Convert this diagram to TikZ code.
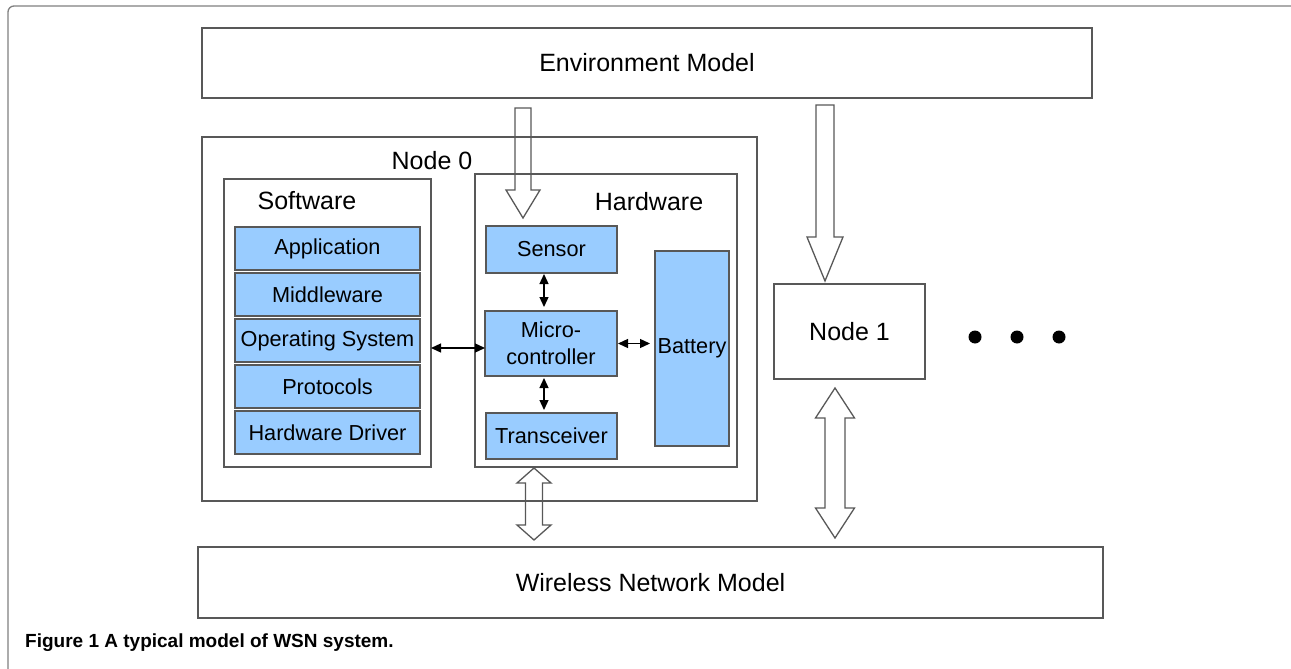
\documentclass[tikz,border=0pt]{standalone}
\usepackage{fontspec}
\setmainfont{Liberation Sans}
\usetikzlibrary{calc,arrows.meta}
\definecolor{layerblue}{RGB}{153,204,255}
\definecolor{linegray}{RGB}{88,88,88}
% hollow block arrow pointing down: top, tip, shaft half width, head half width, head length
\newcommand{\fatdown}[5]{%
	\draw[hollow] ($(#1)+(-#3,0)$) -- ($(#2)+(-#3,#5)$) -- ($(#2)+(-#4,#5)$) -- (#2)
		-- ($(#2)+(#4,#5)$) -- ($(#2)+(#3,#5)$) -- ($(#1)+(#3,0)$) -- cycle;}
% hollow block arrow with two heads: upper tip, lower tip, shaft half width, head half width, head length
\newcommand{\fatboth}[5]{%
	\draw[hollow] (#1) -- ($(#1)+(#4,-#5)$) -- ($(#1)+(#3,-#5)$) -- ($(#2)+(#3,#5)$) -- ($(#2)+(#4,#5)$) -- (#2)
		-- ($(#2)+(-#4,#5)$) -- ($(#2)+(-#3,#5)$) -- ($(#1)+(-#3,-#5)$) -- ($(#1)+(-#4,-#5)$) -- cycle;}
\begin{document}
\begin{tikzpicture}[x=1pt,y=1pt,
		box/.style={draw=linegray,line width=1.3pt,inner sep=0pt,outer sep=0pt},
		layer/.style={box,fill=layerblue,font=\fontsize{21.7}{27}\selectfont,align=center},
		title/.style={font=\fontsize{25}{30}\selectfont},
		link/.style={{Triangle[length=10pt,width=9pt]}-{Triangle[length=10pt,width=9pt]},line width=1.3pt},
		hollow/.style={draw=linegray,line width=1.3pt,line join=miter}]
		\useasboundingbox (0,0) rectangle (1291,-669);
		% page frame
		\draw[draw=gray,line width=1.3pt] (1291,-6) -- (14,-6) arc[start angle=90,end angle=180,radius=6] -- (8,-669);
		% models
		\node[box,title,minimum width=890,minimum height=70] (env) at (647,-63) {Environment Model};
		\node[box,title,minimum width=905,minimum height=71] (wnet) at (650.5,-582.5) {Wireless Network Model};
		% node 0
		\node[box,minimum width=555,minimum height=364] (node0) at (479.5,-319) {};
		\node[title] (n0label) at (432,-161) {Node 0};
		\node[box,minimum width=207,minimum height=288] (sw) at (327.5,-323) {};
		\node[title] (swlabel) at (307,-201) {Software};
		\node[box,minimum width=262,minimum height=293] (hw) at (606,-320.5) {};
		\node[title] (hwlabel) at (649,-202) {Hardware};
		\foreach \name/\txt [count=\i from 0] in {app/Application,mid/Middleware,os/Operating System,prot/Protocols,drv/Hardware Driver}
			\node[layer,minimum width=185,minimum height=43] (\name) at (327.5,-248.5-46*\i) {\txt};
		\node[layer,minimum width=131,minimum height=47] (sensor) at (551.5,-249.5) {Sensor};
		\node[layer,minimum width=132,minimum height=65] (micro) at (551,-343.5) {Micro-\\controller};
		\node[layer,minimum width=131,minimum height=46] (trans) at (551.5,-436) {Transceiver};
		\node[layer,minimum width=74,minimum height=195] (bat) at (692,-348.5) {Battery};
		% node 1 and the rest
		\node[box,title,minimum width=151,minimum height=95] (node1) at (849.5,-331.5) {Node 1};
		\foreach \x in {975,1017,1059}
			\fill (\x,-337) circle (6.5);
		% links inside node 0
		\draw[link] ([xshift=-7.5pt,yshift=-1pt]sensor.south) -- ([xshift=-7pt,yshift=4pt]micro.north);
		\draw[link] ([xshift=-7pt,yshift=-2pt]micro.south) -- ([xshift=-7.5pt,yshift=3pt]trans.north);
		\draw[link] ([yshift=-4.5pt]micro.west) -- ([yshift=-4.5pt]micro.west -| sw.east);
		\draw[link,shorten >=5pt] ([xshift=1pt]micro.east) -- (micro.east -| bat.west);
		% block arrows
		\coordinate (e0top) at (523,-108);
		\coordinate (e0tip) at (523,-218);
		\coordinate (e1top) at (825,-105);
		\coordinate (e1tip) at (825,-281);
		\coordinate (w0top) at (534,-468);
		\coordinate (w0bot) at (534,-540);
		\coordinate (w1top) at (835,-388);
		\coordinate (w1bot) at (835,-538);
		\fatdown{e0top}{e0tip}{8}{17}{28}
		\fatdown{e1top}{e1tip}{9}{18}{44}
		\fatboth{w0top}{w0bot}{8.5}{17}{15}
		\fatboth{w1top}{w1bot}{10}{19.5}{30}
		% caption
		\node[anchor=west,font=\fontsize{19}{23}\selectfont\bfseries,inner sep=0pt] (cap) at (25,-643) {Figure 1 A typical model of WSN system.};
\end{tikzpicture}
\end{document}
